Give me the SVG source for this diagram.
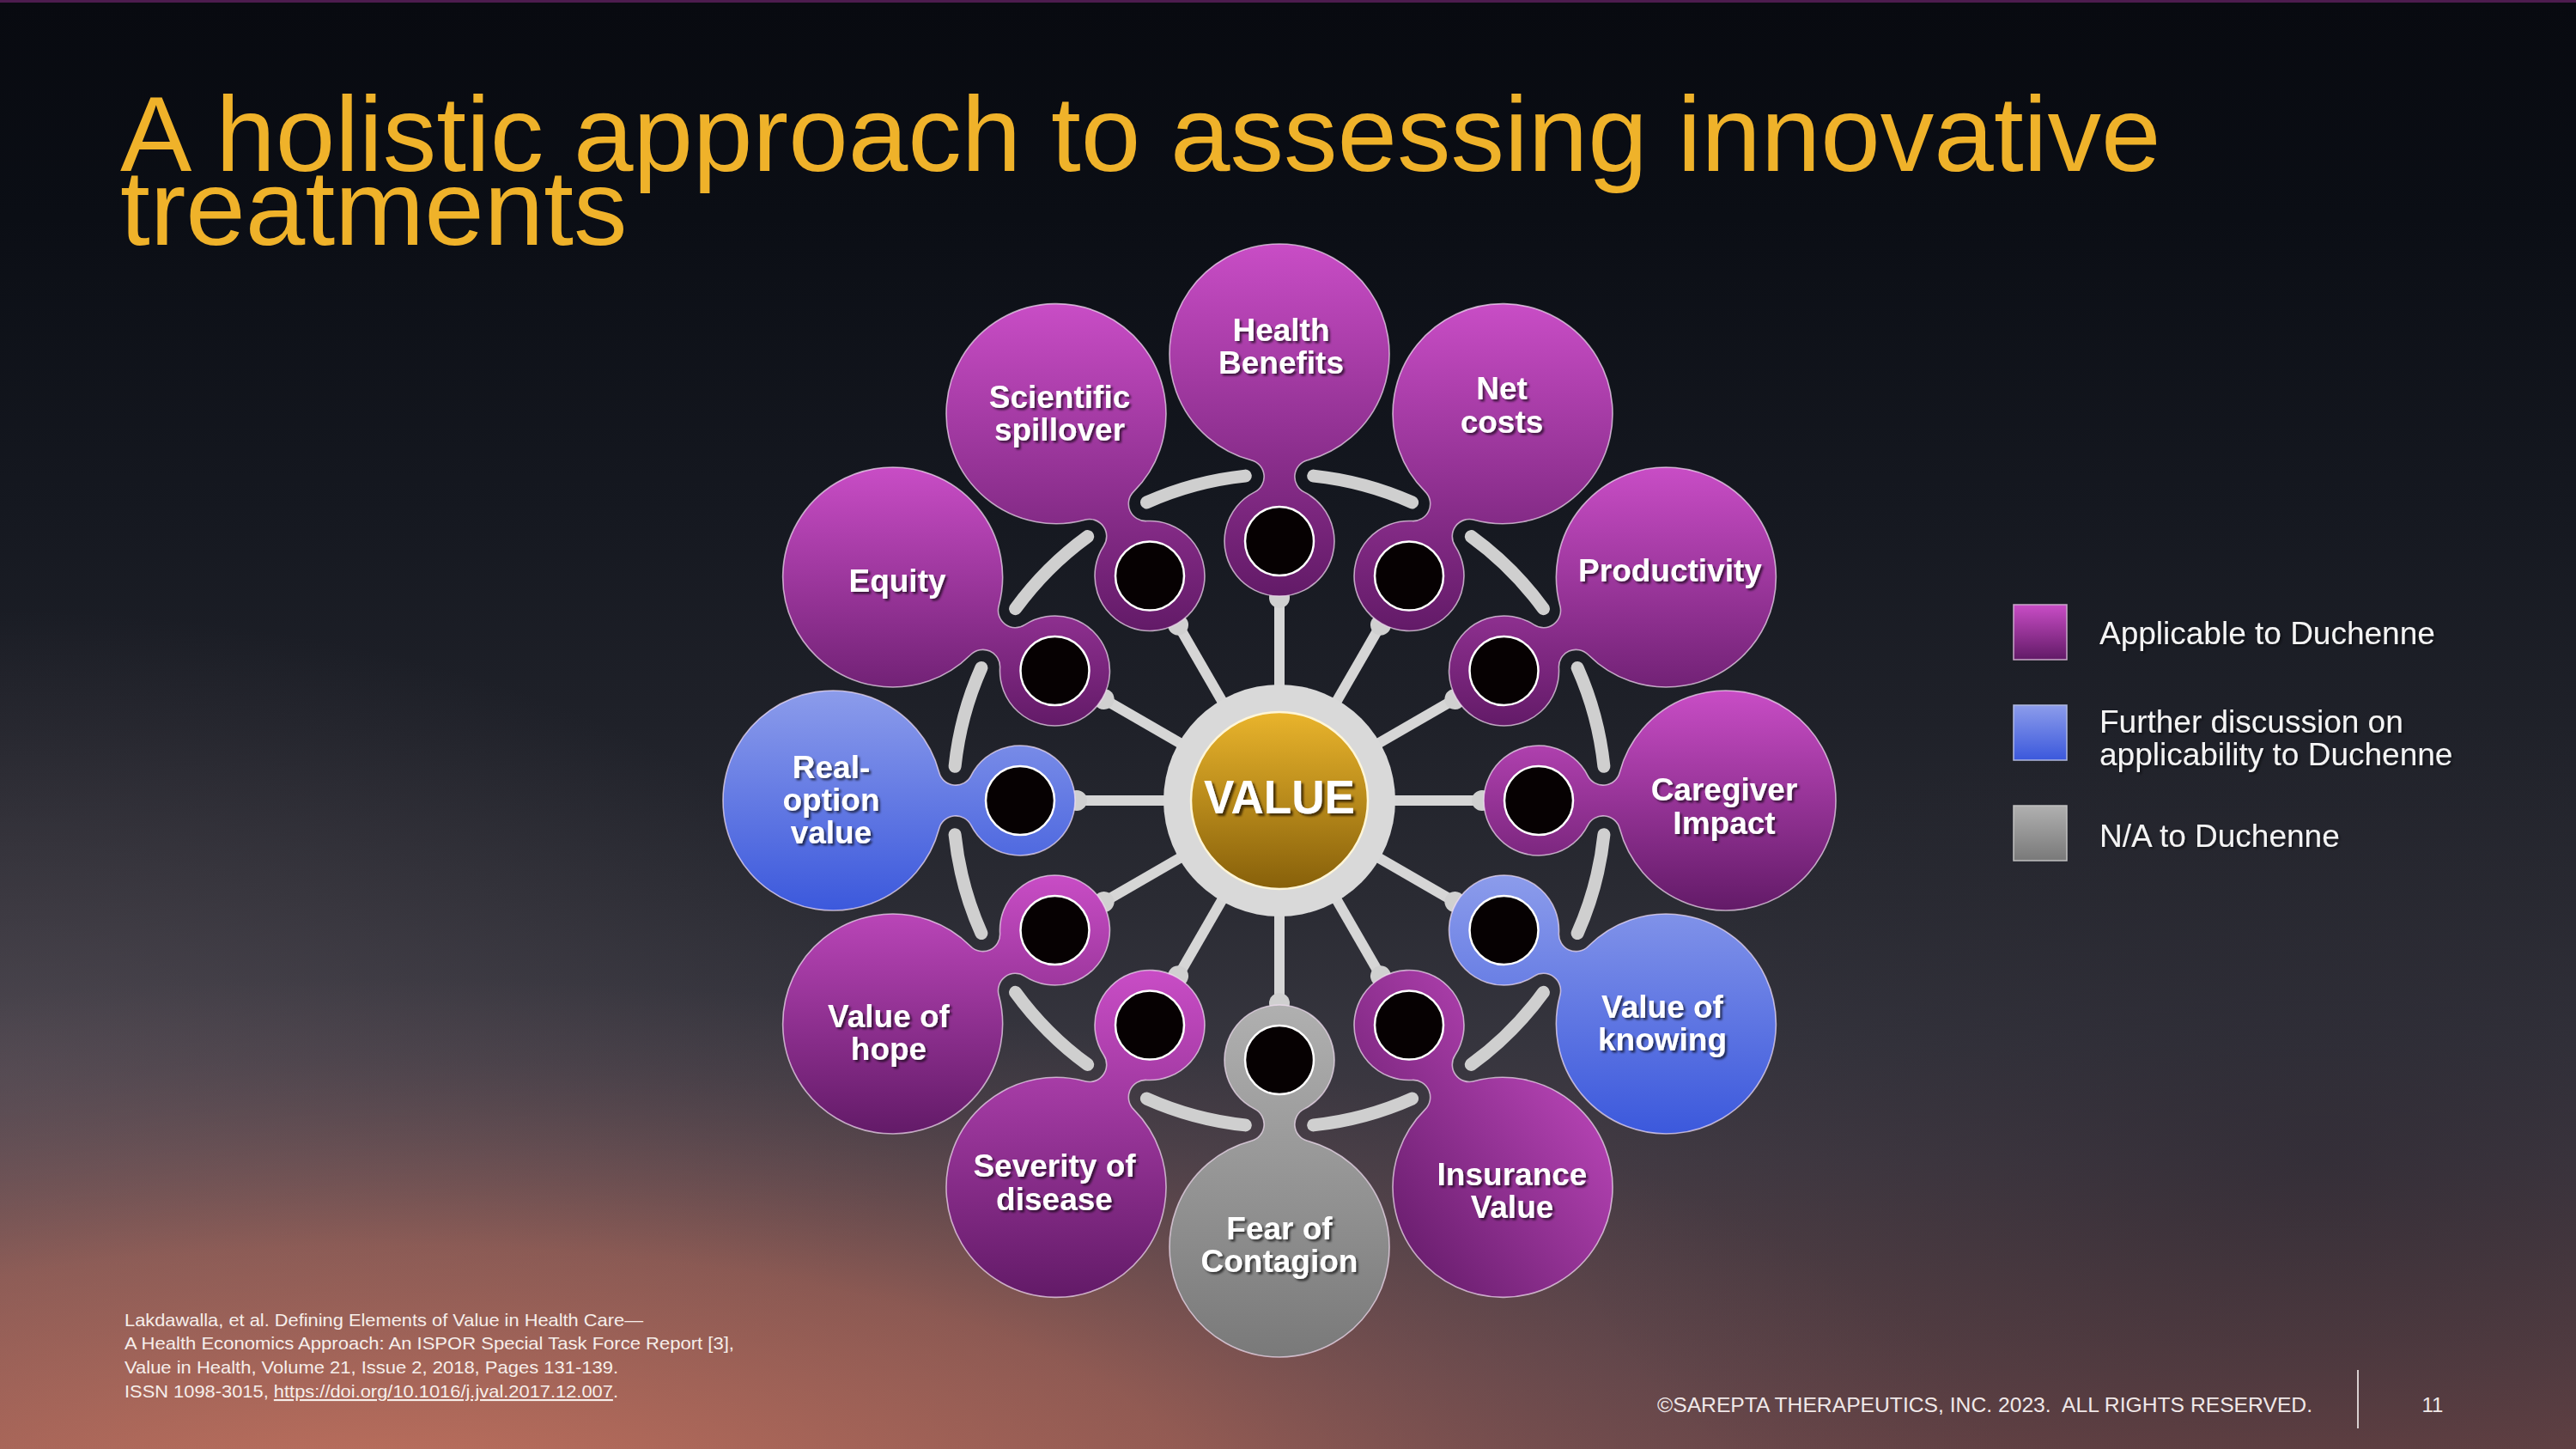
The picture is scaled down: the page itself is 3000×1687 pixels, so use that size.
<svg xmlns="http://www.w3.org/2000/svg" width="3000" height="1687" viewBox="0 0 3000 1687">
<style>
.lbl{font-family:"Liberation Sans",Arial,sans-serif;font-weight:bold;font-size:37px;fill:#ffffff;text-anchor:middle;filter:url(#ts)}
.outline{fill:none;stroke:#f3e0f3;stroke-opacity:0.7;stroke-width:1.6}
.hole{fill:#060102;stroke:#ffffff;stroke-width:2.5}
.spoke{stroke:#d6d6d6;stroke-width:12}
.knob{fill:#d0d0d0}
.arc{fill:none;stroke:#cfcfcf;stroke-width:15;stroke-linecap:round}
.leg{font-family:"Liberation Sans",Arial,sans-serif;font-size:37px;fill:#f4f4f4;filter:url(#ts2)}
.foot{font-family:"Liberation Sans",Arial,sans-serif;font-size:21px;fill:#f6eeea}
</style>
<defs>
<linearGradient id="bg" x1="0" y1="0" x2="0" y2="1">
<stop offset="0" stop-color="#080a10"/>
<stop offset="0.15" stop-color="#0b0e15"/>
<stop offset="0.35" stop-color="#151820"/>
<stop offset="0.5" stop-color="#1f2129"/>
<stop offset="0.62" stop-color="#2a2b33"/>
<stop offset="0.72" stop-color="#36353e"/>
<stop offset="0.8" stop-color="#433b44"/>
<stop offset="0.88" stop-color="#523f45"/>
<stop offset="0.95" stop-color="#5e4246"/>
<stop offset="1" stop-color="#684446"/>
</linearGradient>
<radialGradient id="glowL" gradientUnits="userSpaceOnUse" cx="450" cy="1760" r="1000" gradientTransform="translate(450 1760) scale(1.9 0.62) translate(-450 -1760)">
<stop offset="0" stop-color="#d27a62" stop-opacity="0.85"/>
<stop offset="0.5" stop-color="#b86e5e" stop-opacity="0.55"/>
<stop offset="0.85" stop-color="#7a5a5e" stop-opacity="0.15"/>
<stop offset="1" stop-color="#7a5a5e" stop-opacity="0"/>
</radialGradient>
<radialGradient id="glowM" gradientUnits="userSpaceOnUse" cx="0" cy="1250" r="900" gradientTransform="translate(0 1250) scale(1.2 0.6) translate(0 -1250)">
<stop offset="0" stop-color="#7a6a72" stop-opacity="0.35"/>
<stop offset="1" stop-color="#7a6a72" stop-opacity="0"/>
</radialGradient>
<radialGradient id="darkR" gradientUnits="userSpaceOnUse" cx="2700" cy="1350" r="900" gradientTransform="translate(2700 1350) scale(1 0.6) translate(-2700 -1350)">
<stop offset="0" stop-color="#1e1c26" stop-opacity="0.4"/>
<stop offset="1" stop-color="#1e1c26" stop-opacity="0"/>
</radialGradient>
<linearGradient id="gP" x1="0" y1="0" x2="0" y2="1">
<stop offset="0" stop-color="#c94dc6"/>
<stop offset="1" stop-color="#621a67"/>
</linearGradient>
<linearGradient id="gPd" x1="1" y1="0.15" x2="0.15" y2="0.95">
<stop offset="0" stop-color="#c94dc6"/>
<stop offset="1" stop-color="#621a67"/>
</linearGradient>
<linearGradient id="gB" x1="0" y1="0" x2="0" y2="1">
<stop offset="0" stop-color="#8c9ceb"/>
<stop offset="1" stop-color="#3b58dc"/>
</linearGradient>
<linearGradient id="gG" x1="0" y1="0" x2="0" y2="1">
<stop offset="0" stop-color="#b0b0b0"/>
<stop offset="1" stop-color="#797979"/>
</linearGradient>
<linearGradient id="gGold" x1="0" y1="0" x2="0" y2="1">
<stop offset="0" stop-color="#e9b42c"/>
<stop offset="1" stop-color="#87600a"/>
</linearGradient>
<path id="blob" d="M 1522.8 535.7 A 128 128 0 1 0 1457.2 535.7 A 20 20 0 0 1 1461.1 572.9 A 64 64 0 1 0 1518.9 572.9 A 20 20 0 0 1 1522.8 535.7 Z"/>
<clipPath id="c0"><use href="#blob"/></clipPath>
<clipPath id="c30"><use href="#blob" transform="rotate(30 1490 932)"/></clipPath>
<clipPath id="c60"><use href="#blob" transform="rotate(60 1490 932)"/></clipPath>
<clipPath id="c90"><use href="#blob" transform="rotate(90 1490 932)"/></clipPath>
<clipPath id="c120"><use href="#blob" transform="rotate(120 1490 932)"/></clipPath>
<clipPath id="c150"><use href="#blob" transform="rotate(150 1490 932)"/></clipPath>
<clipPath id="c180"><use href="#blob" transform="rotate(180 1490 932)"/></clipPath>
<clipPath id="c210"><use href="#blob" transform="rotate(210 1490 932)"/></clipPath>
<clipPath id="c240"><use href="#blob" transform="rotate(240 1490 932)"/></clipPath>
<clipPath id="c270"><use href="#blob" transform="rotate(270 1490 932)"/></clipPath>
<clipPath id="c300"><use href="#blob" transform="rotate(300 1490 932)"/></clipPath>
<clipPath id="c330"><use href="#blob" transform="rotate(330 1490 932)"/></clipPath>
<filter id="ts" x="-10%" y="-20%" width="130%" height="150%">
<feDropShadow dx="2.5" dy="2.5" stdDeviation="0.8" flood-color="#000000" flood-opacity="0.6"/>
</filter>
<filter id="ts2" x="-5%" y="-20%" width="115%" height="150%">
<feDropShadow dx="2" dy="2" stdDeviation="1.5" flood-color="#000000" flood-opacity="0.5"/>
</filter>
<filter id="ts3" x="-10%" y="-20%" width="130%" height="150%">
<feDropShadow dx="3" dy="3" stdDeviation="0.8" flood-color="#3a2500" flood-opacity="0.85"/>
</filter>
</defs>

<g id="background">
<rect x="0" y="0" width="3000" height="1687" fill="url(#bg)"/>
<rect x="0" y="0" width="3000" height="1687" fill="url(#glowM)"/>
<rect x="0" y="0" width="3000" height="1687" fill="url(#glowL)"/>
<rect x="0" y="0" width="3000" height="1687" fill="url(#darkR)"/>
<rect x="0" y="0" width="3000" height="3" fill="#4d1c4f"/>
</g>

<g id="title" font-family="Liberation Sans, Arial, sans-serif" font-size="125" fill="#efb22a">
<text x="140" y="199">A holistic approach to assessing innovative</text>
<text x="140" y="285">treatments</text>
</g>

<g id="connectors">
<g id="spokes">
<line class="spoke" x1="1490" y1="932" x2="1490" y2="696"/>
<line class="spoke" x1="1490" y1="932" x2="1490" y2="696" transform="rotate(30 1490 932)"/>
<line class="spoke" x1="1490" y1="932" x2="1490" y2="696" transform="rotate(60 1490 932)"/>
<line class="spoke" x1="1490" y1="932" x2="1490" y2="696" transform="rotate(90 1490 932)"/>
<line class="spoke" x1="1490" y1="932" x2="1490" y2="696" transform="rotate(120 1490 932)"/>
<line class="spoke" x1="1490" y1="932" x2="1490" y2="696" transform="rotate(150 1490 932)"/>
<line class="spoke" x1="1490" y1="932" x2="1490" y2="696" transform="rotate(180 1490 932)"/>
<line class="spoke" x1="1490" y1="932" x2="1490" y2="696" transform="rotate(210 1490 932)"/>
<line class="spoke" x1="1490" y1="932" x2="1490" y2="696" transform="rotate(240 1490 932)"/>
<line class="spoke" x1="1490" y1="932" x2="1490" y2="696" transform="rotate(270 1490 932)"/>
<line class="spoke" x1="1490" y1="932" x2="1490" y2="696" transform="rotate(300 1490 932)"/>
<line class="spoke" x1="1490" y1="932" x2="1490" y2="696" transform="rotate(330 1490 932)"/>
</g>
<g id="knobs">
<circle class="knob" cx="1490" cy="696" r="12"/>
<circle class="knob" cx="1490" cy="696" r="12" transform="rotate(30 1490 932)"/>
<circle class="knob" cx="1490" cy="696" r="12" transform="rotate(60 1490 932)"/>
<circle class="knob" cx="1490" cy="696" r="12" transform="rotate(90 1490 932)"/>
<circle class="knob" cx="1490" cy="696" r="12" transform="rotate(120 1490 932)"/>
<circle class="knob" cx="1490" cy="696" r="12" transform="rotate(150 1490 932)"/>
<circle class="knob" cx="1490" cy="696" r="12" transform="rotate(180 1490 932)"/>
<circle class="knob" cx="1490" cy="696" r="12" transform="rotate(210 1490 932)"/>
<circle class="knob" cx="1490" cy="696" r="12" transform="rotate(240 1490 932)"/>
<circle class="knob" cx="1490" cy="696" r="12" transform="rotate(270 1490 932)"/>
<circle class="knob" cx="1490" cy="696" r="12" transform="rotate(300 1490 932)"/>
<circle class="knob" cx="1490" cy="696" r="12" transform="rotate(330 1490 932)"/>
</g>
<g id="arcs">
<path class="arc" d="M 1529.7 554.1 A 380 380 0 0 1 1644.6 584.9"/>
<path class="arc" d="M 1529.7 554.1 A 380 380 0 0 1 1644.6 584.9" transform="rotate(30 1490 932)"/>
<path class="arc" d="M 1529.7 554.1 A 380 380 0 0 1 1644.6 584.9" transform="rotate(60 1490 932)"/>
<path class="arc" d="M 1529.7 554.1 A 380 380 0 0 1 1644.6 584.9" transform="rotate(90 1490 932)"/>
<path class="arc" d="M 1529.7 554.1 A 380 380 0 0 1 1644.6 584.9" transform="rotate(120 1490 932)"/>
<path class="arc" d="M 1529.7 554.1 A 380 380 0 0 1 1644.6 584.9" transform="rotate(150 1490 932)"/>
<path class="arc" d="M 1529.7 554.1 A 380 380 0 0 1 1644.6 584.9" transform="rotate(180 1490 932)"/>
<path class="arc" d="M 1529.7 554.1 A 380 380 0 0 1 1644.6 584.9" transform="rotate(210 1490 932)"/>
<path class="arc" d="M 1529.7 554.1 A 380 380 0 0 1 1644.6 584.9" transform="rotate(240 1490 932)"/>
<path class="arc" d="M 1529.7 554.1 A 380 380 0 0 1 1644.6 584.9" transform="rotate(270 1490 932)"/>
<path class="arc" d="M 1529.7 554.1 A 380 380 0 0 1 1644.6 584.9" transform="rotate(300 1490 932)"/>
<path class="arc" d="M 1529.7 554.1 A 380 380 0 0 1 1644.6 584.9" transform="rotate(330 1490 932)"/>
</g>
</g>

<g id="node-health-benefits">
<rect x="1360" y="282" width="260" height="414" fill="url(#gP)" clip-path="url(#c0)"/>
<use href="#blob" class="outline"/>
<circle class="hole" cx="1490" cy="630" r="40"/>
<text class="lbl"><tspan x="1492" y="397">Health</tspan><tspan x="1492" y="435">Benefits</tspan></text>
</g>
<g id="node-net-costs">
<rect x="1575" y="352" width="305" height="384" fill="url(#gP)" clip-path="url(#c30)"/>
<use href="#blob" class="outline" transform="rotate(30 1490 932)"/>
<circle class="hole" cx="1641" cy="670.5" r="40"/>
<text class="lbl"><tspan x="1749" y="465">Net</tspan><tspan x="1749" y="504">costs</tspan></text>
</g>
<g id="node-productivity">
<rect x="1686" y="542" width="384" height="305" fill="url(#gP)" clip-path="url(#c60)"/>
<use href="#blob" class="outline" transform="rotate(60 1490 932)"/>
<circle class="hole" cx="1751.5" cy="781" r="40"/>
<text class="lbl" x="1945" y="677">Productivity</text>
</g>
<g id="node-caregiver-impact">
<rect x="1726" y="802" width="414" height="260" fill="url(#gP)" clip-path="url(#c90)"/>
<use href="#blob" class="outline" transform="rotate(90 1490 932)"/>
<circle class="hole" cx="1792" cy="932" r="40"/>
<text class="lbl"><tspan x="2008" y="932">Caregiver</tspan><tspan x="2008" y="971">Impact</tspan></text>
</g>
<g id="node-value-of-knowing">
<rect x="1686" y="1017" width="384" height="305" fill="url(#gB)" clip-path="url(#c120)"/>
<use href="#blob" class="outline" transform="rotate(120 1490 932)"/>
<circle class="hole" cx="1751.5" cy="1083" r="40"/>
<text class="lbl"><tspan x="1936" y="1185">Value of</tspan><tspan x="1936" y="1223">knowing</tspan></text>
</g>
<g id="node-insurance-value">
<rect x="1575" y="1128" width="305" height="384" fill="url(#gPd)" clip-path="url(#c150)"/>
<use href="#blob" class="outline" transform="rotate(150 1490 932)"/>
<circle class="hole" cx="1641" cy="1193.5" r="40"/>
<text class="lbl"><tspan x="1761" y="1380">Insurance</tspan><tspan x="1761" y="1418">Value</tspan></text>
</g>
<g id="node-fear-of-contagion">
<rect x="1360" y="1168" width="260" height="414" fill="url(#gG)" clip-path="url(#c180)"/>
<use href="#blob" class="outline" transform="rotate(180 1490 932)"/>
<circle class="hole" cx="1490" cy="1234" r="40"/>
<text class="lbl"><tspan x="1490" y="1443">Fear of</tspan><tspan x="1490" y="1481">Contagion</tspan></text>
</g>
<g id="node-severity-of-disease">
<rect x="1100" y="1128" width="305" height="384" fill="url(#gP)" clip-path="url(#c210)"/>
<use href="#blob" class="outline" transform="rotate(210 1490 932)"/>
<circle class="hole" cx="1339" cy="1193.5" r="40"/>
<text class="lbl"><tspan x="1228" y="1370">Severity of</tspan><tspan x="1228" y="1409">disease</tspan></text>
</g>
<g id="node-value-of-hope">
<rect x="910" y="1017" width="384" height="305" fill="url(#gP)" clip-path="url(#c240)"/>
<use href="#blob" class="outline" transform="rotate(240 1490 932)"/>
<circle class="hole" cx="1228.5" cy="1083" r="40"/>
<text class="lbl"><tspan x="1035" y="1196">Value of</tspan><tspan x="1035" y="1234">hope</tspan></text>
</g>
<g id="node-real-option-value">
<rect x="840" y="802" width="414" height="260" fill="url(#gB)" clip-path="url(#c270)"/>
<use href="#blob" class="outline" transform="rotate(270 1490 932)"/>
<circle class="hole" cx="1188" cy="932" r="40"/>
<text class="lbl"><tspan x="968" y="906">Real-</tspan><tspan x="968" y="944">option</tspan><tspan x="968" y="982">value</tspan></text>
</g>
<g id="node-equity">
<rect x="910" y="542" width="384" height="305" fill="url(#gP)" clip-path="url(#c300)"/>
<use href="#blob" class="outline" transform="rotate(300 1490 932)"/>
<circle class="hole" cx="1228.5" cy="781" r="40"/>
<text class="lbl" x="1045" y="689">Equity</text>
</g>
<g id="node-scientific-spillover">
<rect x="1100" y="352" width="305" height="384" fill="url(#gP)" clip-path="url(#c330)"/>
<use href="#blob" class="outline" transform="rotate(330 1490 932)"/>
<circle class="hole" cx="1339" cy="670.5" r="40"/>
<text class="lbl"><tspan x="1234" y="475">Scientific</tspan><tspan x="1234" y="513">spillover</tspan></text>
</g>

<g id="node-value">
<circle cx="1490" cy="932" r="135" fill="#d9d9d9"/>
<circle cx="1490" cy="932" r="103" fill="url(#gGold)" stroke="#fff6d8" stroke-width="2.5"/>
<text x="1490" y="947" font-family="Liberation Sans, Arial, sans-serif" font-weight="bold" font-size="55" fill="#ffffff" text-anchor="middle" textLength="176" lengthAdjust="spacingAndGlyphs" filter="url(#ts3)">VALUE</text>
</g>

<g id="legend">
<rect x="2345" y="704" width="62" height="64" fill="url(#gP)" stroke="#c8a8c8" stroke-width="1.5"/>
<rect x="2345" y="821" width="62" height="64" fill="url(#gB)" stroke="#b0b8e0" stroke-width="1.5"/>
<rect x="2345" y="938" width="62" height="64" fill="url(#gG)" stroke="#c0c0c0" stroke-width="1.5"/>
<text class="leg" x="2445" y="750">Applicable to Duchenne</text>
<text class="leg"><tspan x="2445" y="853">Further discussion on</tspan><tspan x="2445" y="891">applicability to Duchenne</tspan></text>
<text class="leg" x="2445" y="986">N/A to Duchenne</text>
</g>

<g id="footnote">
<text class="foot" x="145" y="1544" textLength="604" lengthAdjust="spacingAndGlyphs">Lakdawalla, et al. Defining Elements of Value in Health Care—</text>
<text class="foot" x="145" y="1571" textLength="710" lengthAdjust="spacingAndGlyphs">A Health Economics Approach: An ISPOR Special Task Force Report [3],</text>
<text class="foot" x="145" y="1599" textLength="575" lengthAdjust="spacingAndGlyphs">Value in Health, Volume 21, Issue 2, 2018, Pages 131-139.</text>
<text class="foot" x="145" y="1627" textLength="575" lengthAdjust="spacingAndGlyphs">ISSN 1098-3015, <tspan text-decoration="underline">https://doi.org/10.1016/j.jval.2017.12.007</tspan>.</text>
</g>

<g id="footer" font-family="Liberation Sans, Arial, sans-serif" font-size="24" fill="#f0e8e8">
<text x="1930" y="1644" textLength="763" lengthAdjust="spacingAndGlyphs">©SAREPTA THERAPEUTICS, INC. 2023.&#160; ALL RIGHTS RESERVED.</text>
<line x1="2746" y1="1595" x2="2746" y2="1663" stroke="#d8d0d0" stroke-width="2"/>
<text x="2833" y="1644" text-anchor="middle">11</text>
</g>
</svg>
